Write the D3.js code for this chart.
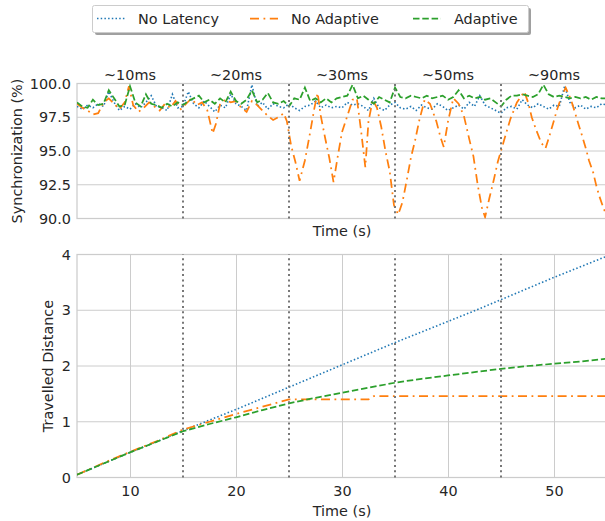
<!DOCTYPE html>
<html><head><meta charset="utf-8">
<script src="https://cdn.jsdelivr.net/npm/d3@7"></script>
<style>body{margin:0;background:#fff;} svg{display:block;font-family:"DejaVu Sans",sans-serif;}</style>
</head><body><svg id="c" width="605" height="521"></svg>
<script>
// ---------- data ----------
const seriesNames = ["No Latency", "No Adaptive", "Adaptive"];
const latencyLabels = ["~10ms", "~20ms", "~30ms", "~50ms", "~90ms"];
const latencyLabelTimes = [10, 20, 30, 40, 50];
const switchTimes = [15, 25, 35, 45];
const syncTicks = [90, 92.5, 95, 97.5, 100];
const distTicks = [0, 1, 2, 3, 4];
const timeTicks = [10, 20, 30, 40, 50];

const syncTime = [5,5.5,6,6.5,7,7.5,8,8.5,9,9.5,10,10.5,11,11.5,12,12.5,13,13.5,14,14.5,
  15,15.5,16,16.5,17,17.5,18,18.5,19,19.5,20,20.5,21,21.5,22,22.5,23,23.5,24,24.5,
  25,25.5,26,26.5,27,27.5,28,28.5,29,29.5,30,30.5,31,31.5,32,32.5,33,33.5,34,34.5,
  35,35.5,36,36.5,37,37.5,38,38.5,39,39.5,40,40.5,41,41.5,42,42.5,43,43.5,44,44.5,
  45,45.5,46,46.5,47,47.5,48,48.5,49,49.5,50,50.5,51,51.5,52,52.5,53,53.5,54,54.5,55];
const syncNoLatency = [98.3,98.1,98.4,98.2,98.5,98.3,99.4,98.6,98.0,98.3,98.1,98.5,98.2,98.6,99.1,98.3,98.2,98.0,99.2,98.2,
  98.3,99.4,98.5,98.2,98.7,98.3,97.9,98.4,98.2,99.2,98.5,98.3,98.0,99.9,98.3,98.6,98.1,98.5,98.3,98.2,
  98.5,98.2,98.0,98.3,98.4,98.7,98.2,98.4,98.2,98.3,98.2,98.6,98.4,98.5,98.3,98.0,98.9,98.2,98.0,98.4,
  98.6,98.2,98.1,98.3,98.0,98.4,98.2,98.1,98.5,98.3,98.0,98.2,98.4,98.1,98.6,98.3,99.1,98.4,98.2,98.0,
  97.8,98.2,98.3,98.1,98.8,98.4,98.2,98.5,98.3,98.1,98.4,98.3,99.8,98.6,98.2,98.4,98.1,98.3,98.2,98.5,98.4];
const syncAdaptive = [98.6,98.3,98.2,98.8,98.4,98.5,99.5,98.9,98.3,98.4,99.8,98.6,98.3,99.2,98.5,98.4,98.2,98.5,98.3,98.6,
  98.4,98.7,98.9,99.1,98.6,98.8,98.5,98.9,98.6,99.4,98.7,98.5,98.8,99.5,98.6,98.8,99.3,98.6,98.5,98.7,
  98.3,98.9,98.8,99.7,98.7,98.9,98.6,98.9,98.6,98.9,99.0,99.1,99.9,98.9,99.1,98.8,98.5,99.0,98.8,98.6,
  99.7,99.0,98.9,99.1,99.0,98.9,99.1,98.9,99.0,99.1,98.8,99.0,99.5,98.9,99.1,98.9,99.0,98.8,98.9,98.6,
  98.3,98.8,99.1,99.1,99.2,99.1,99.0,99.2,99.9,99.2,99.0,99.1,99.0,98.9,99.0,98.9,99.0,98.8,99.0,98.9,98.9];
const syncNoAdaptiveTime = [5,5.5,6,6.5,7,7.5,8,8.5,9,9.5,9.9,10.3,10.8,11.3,11.8,12.3,12.8,13.3,13.8,14.3,14.8,
  15.3,15.8,16.3,16.8,17.3,17.8,18.1,18.5,19,19.5,20,20.5,21,21.5,22,22.5,23,23.5,24,24.5,24.8,
  25.2,25.6,26,26.5,27,27.4,27.7,28,28.4,28.8,29.2,29.6,30,30.5,31,31.4,31.8,32.2,32.5,32.9,33.3,33.7,34.1,34.5,34.9,
  35.3,35.7,36.1,36.5,36.9,37.3,37.8,38.3,38.9,39.3,39.6,40,40.5,41,41.5,42,42.4,42.8,43.2,43.5,43.9,44.3,44.7,
  45,45.4,45.9,46.5,47.2,47.6,47.9,48.3,48.8,49.2,49.6,49.9,50.3,50.7,51.1,51.6,52,52.3,52.7,53,53.3,53.7,54,54.3,54.7,55];
const syncNoAdaptive = [98.5,98.2,98.0,97.7,97.8,98.6,98.9,98.5,98.1,98.6,99.8,98.4,97.9,98.2,98.6,98.3,98.0,98.5,98.2,98.7,98.1,
  98.5,98.9,98.4,98.6,98.0,96.3,97.0,98.5,98.8,98.6,98.7,98.2,97.9,98.7,98.4,98.0,97.6,97.3,97.5,97.8,97.2,
  95.4,94.2,92.8,94.3,96.4,98.2,99.3,97.6,96.0,94.5,92.7,94.6,96.4,97.6,98.8,98.9,96.5,93.8,97.2,98.8,98.2,96.8,95.0,93.5,91.0,
  90.3,91.2,92.8,94.5,95.8,97.3,98.8,98.5,97.2,96.0,95.3,97.2,98.9,98.5,97.6,95.9,94.6,92.5,90.8,90.1,91.5,92.8,94.2,
  95.0,96.1,97.4,98.6,99.4,98.5,97.5,96.6,95.6,95.2,96.2,97.0,98.1,99.0,99.7,98.8,97.8,97.0,96.0,95.2,94.3,93.4,92.4,91.6,90.7,90.2];

const distTime = [5,7.5,10,12.5,15,17.5,20,22.5,25,27.5,30,32.5,35,37.5,40,42.5,45,47.5,50,52.5,55];
const distNoLatency = [0.05,0.25,0.45,0.64,0.84,1.03,1.22,1.42,1.62,1.82,2.02,2.22,2.42,2.61,2.80,2.99,3.19,3.39,3.59,3.78,3.97];
const distAdaptive = [0.05,0.25,0.45,0.64,0.83,0.96,1.08,1.21,1.33,1.43,1.52,1.61,1.70,1.77,1.83,1.89,1.95,2.00,2.04,2.08,2.13];
const distNoAdaptiveTime = [5,7.5,10,12.5,15,17.5,20,22.5,25,27.5,30,32.5,33,35,37.5,40,42.5,45,47.5,50,52.5,55];
const distNoAdaptive = [0.05,0.26,0.46,0.65,0.86,1.00,1.14,1.27,1.40,1.40,1.40,1.40,1.46,1.46,1.46,1.46,1.46,1.46,1.46,1.46,1.46,1.46];

// ---------- styles ----------
const colors = ["#1f77b4", "#ff7f0e", "#2ca02c"];
const dashes = ["1.5,2.2", "9,4.5,1.8,4.5", "6.5,2.8"];
const widths = [1.6, 1.75, 1.75];
const textColor = "#262626";
const gridColor = "#cccccc";

const svg = d3.select("#c");
const W = 605;
const x = d3.scaleLinear().domain([5, 55]).range([77, 607]);
const yTop = d3.scaleLinear().domain([90, 100]).range([218.5, 83.5]);
const yBot = d3.scaleLinear().domain([0, 4]).range([477.5, 254.5]);

const defs = svg.append("defs");
function clip(id, y0, y1) {
  defs.append("clipPath").attr("id", id).append("rect")
    .attr("x", 77).attr("y", y0).attr("width", 530).attr("height", y1 - y0);
}
clip("clipTop", 83.5, 218.5);
clip("clipBot", 254.5, 477.5);

function panel(y, ticks, fmt, showX, gridX, clipId, seriesList, label) {
  const g = svg.append("g");
  // horizontal grid
  g.selectAll(".hg").data(ticks).enter().append("line")
    .attr("x1", 77).attr("x2", 607).attr("y1", d => y(d)).attr("y2", d => y(d))
    .attr("stroke", gridColor).attr("stroke-width", 1);
  if (gridX) {
    g.selectAll(".vg").data(timeTicks).enter().append("line")
      .attr("x1", d => Math.round(x(d)) + 0.5).attr("x2", d => Math.round(x(d)) + 0.5)
      .attr("y1", y.range()[0]).attr("y2", y.range()[1])
      .attr("stroke", gridColor).attr("stroke-width", 1);
  }
  // spines
  const [yb, yt] = y.range();
  g.append("rect").attr("x", 77).attr("y", yt).attr("width", 530).attr("height", yb - yt)
    .attr("fill", "none").attr("stroke", gridColor).attr("stroke-width", 1.25);
  // y axis
  const ya = d3.axisLeft(y).tickValues(ticks).tickFormat(fmt).tickSize(0).tickPadding(6);
  const yg = g.append("g").attr("transform", "translate(77,0)").call(ya);
  yg.select(".domain").remove();
  yg.selectAll("text").attr("fill", textColor).style("font-size", "14.4px").style("font-family", "DejaVu Sans");
  if (showX) {
    const xa = d3.axisBottom(x).tickValues(timeTicks).tickFormat(d3.format("d")).tickSize(0).tickPadding(8);
    const xg = g.append("g").attr("transform", `translate(0,${yb})`).call(xa);
    xg.select(".domain").remove();
    xg.selectAll("text").attr("fill", textColor).style("font-size", "14.4px").style("font-family", "DejaVu Sans");
  }
  // series
  const sg = g.append("g").attr("clip-path", `url(#${clipId})`);
  seriesList.forEach((s) => {
    const pts = s.t.map((t, j) => [t, s.v[j]]);
    sg.append("path").datum(pts)
      .attr("d", d3.line().x(d => x(d[0])).y(d => y(d[1])))
      .attr("fill", "none").attr("stroke", colors[s.i]).attr("stroke-width", widths[s.i])
      .attr("stroke-dasharray", dashes[s.i]);
  });
  // switch lines
  g.selectAll(".sw").data(switchTimes).enter().append("line")
    .attr("x1", d => x(d)).attr("x2", d => x(d)).attr("y1", yb).attr("y2", yt)
    .attr("stroke", "#777777").attr("stroke-width", 2).attr("stroke-dasharray", "2,3.3");
  // y label
  g.append("text").attr("transform", `translate(${label.x},${(yb + yt) / 2}) rotate(-90)`)
    .attr("text-anchor", "middle").attr("dy", "0.35em").attr("fill", textColor)
    .style("font-size", "14.4px").text(label.text);
  return g;
}

panel(yTop, syncTicks, d3.format(".1f"), false, false, "clipTop", [
  { i: 0, t: syncTime, v: syncNoLatency },
  { i: 1, t: syncNoAdaptiveTime, v: syncNoAdaptive },
  { i: 2, t: syncTime, v: syncAdaptive }
], { x: 17, text: "Synchronization (%)" });

panel(yBot, distTicks, d3.format("d"), true, true, "clipBot", [
  { i: 0, t: distTime, v: distNoLatency },
  { i: 1, t: distNoAdaptiveTime, v: distNoAdaptive },
  { i: 2, t: distTime, v: distAdaptive }
], { x: 48, text: "Travelled Distance" });

// x labels
svg.append("text").attr("x", x(30)).attr("y", 236).attr("text-anchor", "middle")
  .attr("fill", textColor).style("font-size", "14.4px").text("Time (s)");
svg.append("text").attr("x", x(30)).attr("y", 516).attr("text-anchor", "middle")
  .attr("fill", textColor).style("font-size", "14.4px").text("Time (s)");

// latency labels
svg.selectAll(".lat").data(latencyLabels).enter().append("text")
  .attr("x", (d, i) => x(latencyLabelTimes[i])).attr("y", 80).attr("text-anchor", "middle")
  .attr("fill", textColor).style("font-size", "14.4px").text(d => d);

// legend
const lg = svg.append("g");
lg.append("rect").attr("x", 95).attr("y", 8).attr("width", 436).attr("height", 27).attr("rx", 2)
  .attr("fill", "#a0a0a0");
lg.append("rect").attr("x", 92.5).attr("y", 5.5).attr("width", 436).attr("height", 27).attr("rx", 2)
  .attr("fill", "#ffffff").attr("stroke", "#cccccc").attr("stroke-width", 1);
const legX = [97, 250, 413];
seriesNames.forEach((n, i) => {
  lg.append("line").attr("x1", legX[i]).attr("x2", legX[i] + 28).attr("y1", 18.5).attr("y2", 18.5)
    .attr("stroke", colors[i]).attr("stroke-width", widths[i]).attr("stroke-dasharray", dashes[i]);
  lg.append("text").attr("x", legX[i] + 41).attr("y", 18.5).attr("dy", "0.35em")
    .attr("fill", textColor).style("font-size", "14.4px").text(n);
});
</script></body></html>
